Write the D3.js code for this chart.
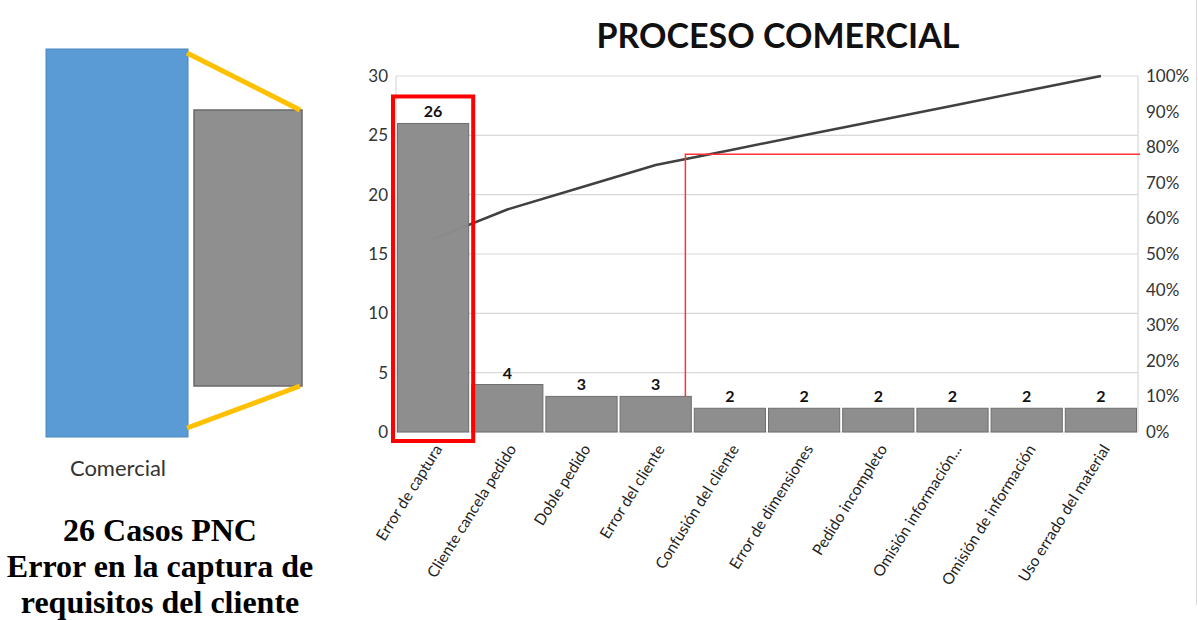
<!DOCTYPE html>
<html>
<head>
<meta charset="utf-8">
<script src="https://cdn.jsdelivr.net/npm/d3@7"></script>
<style>
  body { margin: 0; background: #fff; }
  svg { display: block; }
</style>
</head>
<body>
<div id="vis"></div>
<script>
var width = 1198;
var height = 620;

// data
const categories = ["Error de captura", "Cliente cancela pedido", "Doble pedido", "Error del cliente",
  "Confusión del cliente", "Error de dimensiones", "Pedido incompleto", "Omisión información...",
  "Omisión de información", "Uso errado del material"];
const casos = [26, 4, 3, 3, 2, 2, 2, 2, 2, 2];
const leftTicks = [0, 5, 10, 15, 20, 25, 30];
const rightTicks = [0, 0.1, 0.2, 0.3, 0.4, 0.5, 0.6, 0.7, 0.8, 0.9, 1];
const corte = 0.78;          // red cut-off line (hand drawn in the original)
const resumen = ["26 Casos PNC", "Error en la captura de", "requisitos del cliente"];

var total = d3.sum(casos);
var acumulado = [];
casos.reduce(function (s, v, i) { s += v; acumulado[i] = s / total; return s; }, 0);

var svg = d3.select("#vis").append("svg")
  .attr("width", width)
  .attr("height", height);

// ---- left panel (process block) ----
var panel = svg.append("g");
panel.append("rect").attr("x", 46).attr("y", 49).attr("width", 142).attr("height", 388)
  .attr("fill", "#5b9bd5").attr("stroke", "#4a86bd").attr("stroke-width", 1);
panel.append("rect").attr("x", 194).attr("y", 110).attr("width", 108).attr("height", 276)
  .attr("fill", "#8f8f8f").attr("stroke", "#6a6a6a").attr("stroke-width", 1.5);
panel.append("line").attr("x1", 187).attr("y1", 53).attr("x2", 300).attr("y2", 110)
  .attr("stroke", "#ffc000").attr("stroke-width", 5);
panel.append("line").attr("x1", 187).attr("y1", 428).attr("x2", 300).attr("y2", 386)
  .attr("stroke", "#ffc000").attr("stroke-width", 5);
panel.append("text").attr("x", 118).attr("y", 476).attr("text-anchor", "middle")
  .attr("font-family", "Lato, 'Open Sans', sans-serif").attr("font-size", 22).attr("fill", "#333")
  .text("Comercial");
panel.selectAll(".resumen").data(resumen).enter().append("text")
  .attr("class", "resumen")
  .attr("x", 160)
  .attr("y", function (d, i) { return 541 + i * 36; })
  .attr("text-anchor", "middle")
  .attr("font-family", "'Liberation Serif', 'Times New Roman', serif")
  .attr("font-weight", "bold")
  .attr("font-size", 32)
  .attr("fill", "#000")
  .text(function (d) { return d; });

// ---- pareto chart ----
var plotL = 396, plotR = 1138, plotT = 76, plotB = 432;
var x = d3.scaleBand().domain(categories).range([plotL, plotR]).padding(0);
var y = d3.scaleLinear().domain([0, 30]).range([plotB, plotT]);
var y2 = d3.scaleLinear().domain([0, 1]).range([plotB, plotT]);

svg.append("text").attr("x", 778).attr("y", 48).attr("text-anchor", "middle")
  .attr("font-family", "Lato, 'Open Sans', sans-serif").attr("font-weight", "bold")
  .attr("font-size", 34).attr("fill", "#111")
  .text("PROCESO COMERCIAL");

// gridlines
svg.append("g").selectAll("line").data(leftTicks).enter().append("line")
  .attr("x1", plotL).attr("x2", plotR)
  .attr("y1", function (d) { return y(d); }).attr("y2", function (d) { return y(d); })
  .attr("stroke", "#d9d9d9").attr("stroke-width", 1.2);
svg.append("line").attr("x1", plotL).attr("x2", plotL).attr("y1", plotT).attr("y2", plotB)
  .attr("stroke", "#d9d9d9").attr("stroke-width", 1.2);
svg.append("line").attr("x1", plotR).attr("x2", plotR).attr("y1", plotT).attr("y2", plotB)
  .attr("stroke", "#d9d9d9").attr("stroke-width", 1.2);
// outer chart border at the right edge
svg.append("line").attr("x1", 1196.5).attr("x2", 1196.5).attr("y1", 0).attr("y2", 605)
  .attr("stroke", "#d9d9d9").attr("stroke-width", 1);

// axes
var axL = svg.append("g").attr("transform", "translate(" + (plotL - 6) + ",0)")
  .call(d3.axisLeft(y).tickValues(leftTicks).tickSize(0).tickPadding(2));
var axR = svg.append("g").attr("transform", "translate(" + (plotR + 6) + ",0)")
  .call(d3.axisRight(y2).tickValues(rightTicks).tickSize(0).tickPadding(2).tickFormat(d3.format(".0%")));
[axL, axR].forEach(function (a) {
  a.select(".domain").remove();
  a.selectAll("text").attr("font-family", "Lato, 'Open Sans', sans-serif")
    .attr("font-size", 17).attr("fill", "#333");
});

// cumulative line (behind bars)
var line = d3.line()
  .x(function (d, i) { return x(categories[i]) + x.bandwidth() / 2; })
  .y(function (d) { return y2(d); });
svg.append("path").datum(acumulado).attr("d", line)
  .attr("fill", "none").attr("stroke", "#404040").attr("stroke-width", 2.5);

// bars
svg.selectAll(".bar").data(casos).enter().append("rect")
  .attr("class", "bar")
  .attr("x", function (d, i) { return x(categories[i]) + 1.5; })
  .attr("y", function (d) { return y(d); })
  .attr("width", x.bandwidth() - 3)
  .attr("height", function (d) { return plotB - y(d); })
  .attr("fill", "#8c8c8c").attr("fill-opacity", 0.98)
  .attr("stroke", "#6e6e6e").attr("stroke-width", 1);

// value labels
svg.selectAll(".val").data(casos).enter().append("text")
  .attr("class", "val")
  .attr("x", function (d, i) { return x(categories[i]) + x.bandwidth() / 2; })
  .attr("y", function (d) { return y(d) - 6; })
  .attr("text-anchor", "middle")
  .attr("font-family", "Lato, 'Open Sans', sans-serif").attr("font-weight", "bold")
  .attr("font-size", 16).attr("fill", "#111")
  .text(function (d) { return d; });

// category labels
svg.selectAll(".cat").data(categories).enter().append("text")
  .attr("class", "cat")
  .attr("transform", function (d) {
    return "translate(" + (x(d) + x.bandwidth() / 2 + 5) + "," + (plotB + 14) + ") rotate(-58)";
  })
  .attr("text-anchor", "end")
  .attr("dy", "0.35em")
  .attr("font-family", "Lato, 'Open Sans', sans-serif")
  .attr("font-size", 15.5).attr("fill", "#222")
  .text(function (d) { return d; });

// red annotations: cut-off line and highlight box
var xc = x(categories[3]) + x.bandwidth() * 0.9;
svg.append("path")
  .attr("d", "M" + xc + "," + y(casos[3]) + "V" + y2(corte) + "H" + (plotR + 2))
  .attr("fill", "none").attr("stroke", "#ff3333").attr("stroke-width", 1.5);
svg.append("rect")
  .attr("x", x(categories[0]) - 3).attr("y", y(casos[0]) - 27)
  .attr("width", x.bandwidth() + 6).attr("height", plotB - y(casos[0]) + 36)
  .attr("fill", "none").attr("stroke", "#ff0000").attr("stroke-width", 4);
</script>
</body>
</html>
